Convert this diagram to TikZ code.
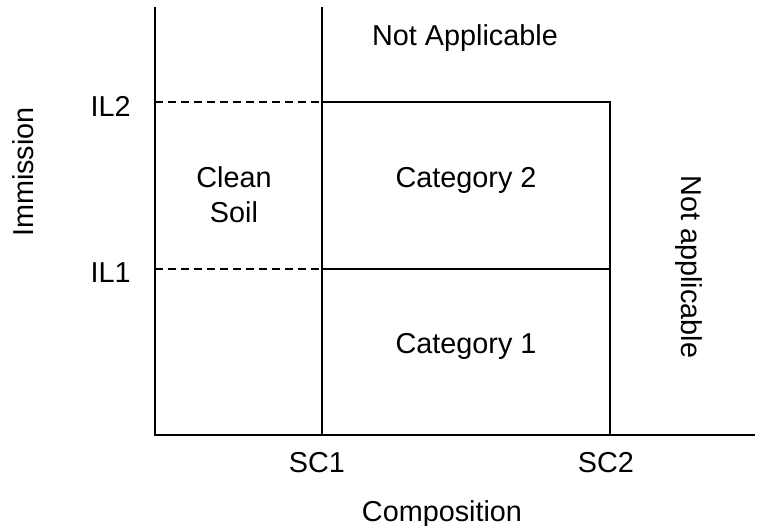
\documentclass[tikz,border=0pt]{standalone}
\usepackage{fontspec}
\setmainfont{Liberation Sans}
\begin{document}
\begin{tikzpicture}[x=0.5pt,y=-0.5pt,
  axis/.style={line width=1pt},
  edge/.style={line width=0.75pt},
  level/.style={line width=0.75pt,dash pattern=on 4pt off 2.5pt},
  lbl/.style={font=\fontsize{14.4}{17.5}\selectfont,inner sep=0pt,align=center}]
\useasboundingbox (0,0) rectangle (773,526);

% Axes
\coordinate (top) at (155,7);
\coordinate (origin) at (155,435);
\coordinate (right) at (755,435);
\draw[axis] (top) -- (origin) -- (right);

% Limits on the composition axis
\coordinate (sc1top) at (322,7);
\coordinate (sc1) at (322,435);
\coordinate (sc2) at (610,435);
\draw[edge] (sc1top) -- (sc1);

% Immission levels
\coordinate (il2) at (155,102);
\coordinate (il1) at (155,269);
\coordinate (il2mid) at (322,102);
\coordinate (il1mid) at (322,269);
\coordinate (il2end) at (610,102);
\coordinate (il1end) at (610,269);
\draw[level] (il2) -- (il2mid);
\draw[level] (il1) -- (il1mid);

% Categories
\draw[edge] (il2mid) -- (il2end) -- (sc2);
\draw[edge] (il1mid) -- (il1end);

% Labels
\node[lbl,anchor=base east] (ilabel2) at (131,116) {IL2};
\node[lbl,anchor=base east] (ilabel1) at (131,282) {IL1};
\node[lbl,anchor=base] (sclabel1) at (317,472) {SC1};
\node[lbl,anchor=base] (sclabel2) at (606,472) {SC2};
\node[lbl,anchor=base] (xlabel) at (442,521) {Composition};
\node[lbl,rotate=90] (ylabel) at (23,172) {Immission};

\node[lbl,anchor=base] (clean) at (234,222) {Clean\\Soil};
\node[lbl,anchor=base] (cat2) at (466,187) {Category 2};
\node[lbl,anchor=base] (cat1) at (466,353) {Category 1};
\node[lbl,anchor=base] (natop) at (465,45) {Not Applicable};
\node[lbl,rotate=-90] (naright) at (689,267) {Not applicable};

\end{tikzpicture}
\end{document}
